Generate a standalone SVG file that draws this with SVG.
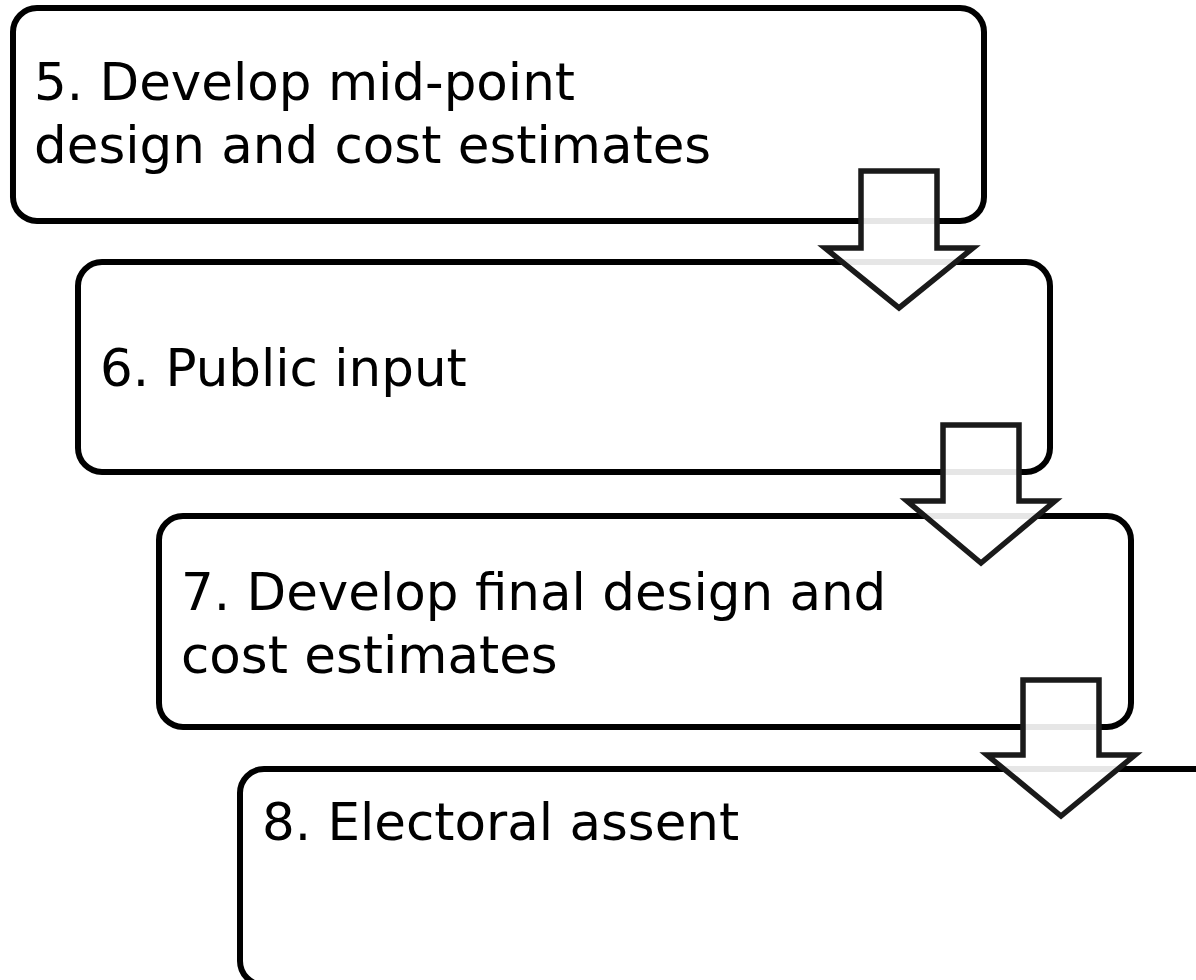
<svg xmlns="http://www.w3.org/2000/svg" width="1196" height="980" viewBox="0 0 1196 980">
<style>
.box{fill:#ffffff;stroke:#000000;stroke-width:6}
.arr{fill:#ffffff;fill-opacity:0.9;stroke:#1a1a1a;stroke-width:5.5;stroke-linejoin:miter}
.t{font-family:"DejaVu Sans",sans-serif;font-size:51.5px;fill:#000000}
</style>
<rect width="1196" height="980" fill="#ffffff"/>
<g id="node5">
<rect class="box" x="13" y="8" width="971" height="213" rx="24"/>
<text class="t" x="34" y="100">5. Develop mid-point</text>
<text class="t" x="34" y="163">design and cost estimates</text>
</g>
<g id="node6">
<rect class="box" x="78" y="262" width="972" height="210" rx="24"/>
<text class="t" x="100" y="386">6. Public input</text>
</g>
<g id="node7">
<rect class="box" x="159" y="516" width="972" height="211" rx="24"/>
<text class="t" x="181" y="610">7. Develop final design and</text>
<text class="t" x="181" y="673">cost estimates</text>
</g>
<g id="node8">
<rect class="box" x="240" y="769" width="990" height="216" rx="24"/>
<text class="t" x="262" y="840">8. Electoral assent</text>
</g>
<g id="connectors">
<polygon class="arr" points="861,171 937,171 937,248 973,248 899,308 825,248 861,248"/>
<polygon class="arr" points="943,425 1019,425 1019,501 1055,501 981,563 907,501 943,501"/>
<polygon class="arr" points="1023,680 1099,680 1099,755 1135,755 1061,816 987,755 1023,755"/>
</g>
</svg>
